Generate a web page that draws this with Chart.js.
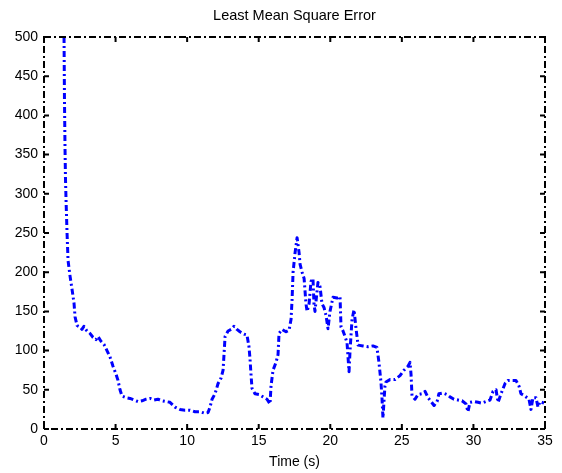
<!DOCTYPE html>
<html>
<head>
<meta charset="utf-8">
<script src="https://cdn.jsdelivr.net/npm/chart.js@4"></script>
<style>
html, body { margin: 0; padding: 0; background: #fff; }
</style>
</head>
<body>
<canvas id="chart" width="562" height="473"></canvas>
<script>
const times = [
    1.40, 1.43, 1.47, 1.50, 1.54, 1.61, 1.68, 1.82, 1.96, 2.10, 2.17, 2.31, 2.52, 2.65, 2.79, 3.00,
    3.21, 3.42, 3.63, 3.77, 3.98, 4.19, 4.40, 4.61, 4.82, 5.03, 5.17, 5.31, 5.45, 5.73, 6.01, 6.29,
    6.57, 6.85, 7.13, 7.41, 7.68, 7.96, 8.24, 8.52, 8.80, 9.15, 9.50, 9.85, 10.20, 10.55, 10.90, 11.25,
    11.46, 11.60, 11.74, 11.95, 12.16, 12.37, 12.51, 12.65, 12.86, 13.07, 13.27, 13.48, 13.69, 13.97,
    14.18, 14.32, 14.39, 14.46, 14.53, 14.74, 15.02, 15.30, 15.58, 15.79, 15.86, 16.00, 16.21, 16.35,
    16.42, 16.63, 16.91, 17.12, 17.26, 17.33, 17.40, 17.54, 17.68, 17.82, 17.89, 18.03, 18.17, 18.24,
    18.30, 18.38, 18.52, 18.65, 18.79, 18.86, 18.93, 19.14, 19.28, 19.42, 19.56, 19.70, 19.84, 19.98,
    20.19, 20.47, 20.68, 20.75, 20.89, 21.03, 21.17, 21.31, 21.38, 21.52, 21.66, 21.80, 21.94, 22.29,
    22.64, 22.98, 23.26, 23.40, 23.54, 23.61, 23.68, 23.75, 23.82, 23.89, 24.17, 24.52, 24.87, 25.15,
    25.43, 25.57, 25.64, 25.71, 25.92, 26.13, 26.41, 26.62, 26.83, 27.04, 27.25, 27.46, 27.59, 27.87,
    28.15, 28.36, 28.64, 28.92, 29.20, 29.48, 29.62, 29.76, 30.04, 30.32, 30.60, 30.88, 31.16, 31.37,
    31.58, 31.72, 31.93, 32.21, 32.42, 32.69, 32.97, 33.18, 33.32, 33.60, 33.88, 34.02, 34.16, 34.37,
    34.51, 34.65, 34.93
];

const errors = [
    500, 420, 356, 320, 292, 250, 215, 195, 178, 160, 143, 132, 130, 127, 131, 125,
    122, 117, 114, 118, 112, 108, 100, 92, 80, 70, 62, 50, 42, 40, 39, 37,
    35, 36, 38, 39, 37, 38, 36, 35, 34, 28, 25, 24, 24, 22, 22, 20,
    21, 28, 38, 45, 58, 65, 75, 118, 125, 127, 131, 127, 124, 121,
    120, 105, 90, 70, 52, 45, 44, 41, 38, 32, 55, 75, 85, 95,
    122, 127, 124, 126, 140, 165, 200, 225, 244, 225, 210, 200, 192, 175,
    160, 150, 160, 188, 192, 160, 150, 187, 182, 160, 155, 145, 128, 150,
    168, 167, 169, 130, 125, 118, 110, 73, 100, 140, 152, 128, 107, 106,
    105, 106, 104, 85, 60, 40, 14, 35, 55, 60, 63, 63, 68, 75,
    80, 85, 70, 42, 38, 44, 45, 48, 40, 35, 30, 35, 45, 46,
    44, 41, 38, 37, 36, 32, 22, 34, 35, 34, 33, 35, 37, 48,
    50, 34, 45, 58, 62, 62, 62, 55, 45, 42, 38, 25, 40, 40,
    28, 35, 33
];

const xTicks = [0, 5, 10, 15, 20, 25, 30, 35];
const yTicks = [0, 50, 100, 150, 200, 250, 300, 350, 400, 450, 500];

const FONT = 'Liberation Sans, Arial, Helvetica, sans-serif';

// dash-dot plot box with MATLAB-style inward tick marks on all four sides
const plotBox = {
    id: 'plotBox',
    afterDraw(chart) {
        const { ctx, chartArea: a, scales: { x, y } } = chart;
        const len = 5;
        ctx.save();
        ctx.strokeStyle = '#000';
        ctx.lineWidth = 2;
        ctx.setLineDash([7, 3, 2, 3]);
        ctx.strokeRect(a.left, a.top, a.right - a.left, a.bottom - a.top);
        ctx.setLineDash([]);
        ctx.beginPath();
        x.ticks.forEach(t => {
            const px = x.getPixelForValue(t.value);
            ctx.moveTo(px, a.bottom); ctx.lineTo(px, a.bottom - len);
            ctx.moveTo(px, a.top); ctx.lineTo(px, a.top + len);
        });
        y.ticks.forEach(t => {
            const py = y.getPixelForValue(t.value);
            ctx.moveTo(a.left, py); ctx.lineTo(a.left + len, py);
            ctx.moveTo(a.right, py); ctx.lineTo(a.right - len, py);
        });
        ctx.stroke();
        ctx.restore();
    }
};

const noBorder = { display: false };
const tickFont = { family: FONT, size: 14 };

const chart = new Chart(document.getElementById('chart'), {
    type: 'line',
    data: {
        datasets: [{
            data: times.map((t, i) => ({ x: t, y: errors[i] })),
            borderColor: '#0000ff',
            borderWidth: 3,
            borderDash: [6, 3, 2, 3],
            borderJoinStyle: 'round',
            pointRadius: 0,
            tension: 0,
            fill: false,
            xAxisID: 'x',
            yAxisID: 'y'
        }]
    },
    options: {
        responsive: false,
        animation: false,
        devicePixelRatio: 1,
        layout: { padding: 0 },
        plugins: {
            legend: { display: false },
            tooltip: { enabled: false }
        },
        scales: {
            x: {
                type: 'linear',
                position: 'bottom',
                min: 0,
                max: 35,
                afterBuildTicks: s => { s.ticks = xTicks.map(v => ({ value: v })); },
                afterFit: s => { s.height = 44; },
                grid: { display: false, drawTicks: false },
                border: noBorder,
                ticks: { color: '#000', font: tickFont, padding: 4, maxRotation: 0 },
                title: {
                    display: true,
                    text: 'Time (s)',
                    color: '#000',
                    font: { family: FONT, size: 14, lineHeight: 1.2 },
                    padding: { top: 0, bottom: 2 }
                }
            },
            // top axis only carries the title, centred over the plot box
            x2: {
                type: 'linear',
                position: 'top',
                min: 0,
                max: 35,
                afterFit: s => { s.height = 37; },
                grid: { display: false, drawTicks: false },
                border: noBorder,
                ticks: { display: false },
                title: {
                    display: true,
                    text: 'Least Mean Square Error',
                    color: '#000',
                    font: { family: FONT, size: 14.5, lineHeight: 1.2 },
                    padding: { top: 7, bottom: 0 }
                }
            },
            y: {
                type: 'linear',
                position: 'left',
                min: 0,
                max: 500,
                afterBuildTicks: s => { s.ticks = yTicks.map(v => ({ value: v })); },
                afterFit: s => { s.width = 44; },
                grid: { display: false, drawTicks: false },
                border: noBorder,
                ticks: { color: '#000', font: tickFont, padding: 6 }
            },
            y2: {
                type: 'linear',
                position: 'right',
                min: 0,
                max: 500,
                afterFit: s => { s.width = 17; },
                grid: { display: false, drawTicks: false },
                border: noBorder,
                ticks: { display: false }
            }
        }
    },
    plugins: [plotBox]
});
</script>
</body>
</html>
